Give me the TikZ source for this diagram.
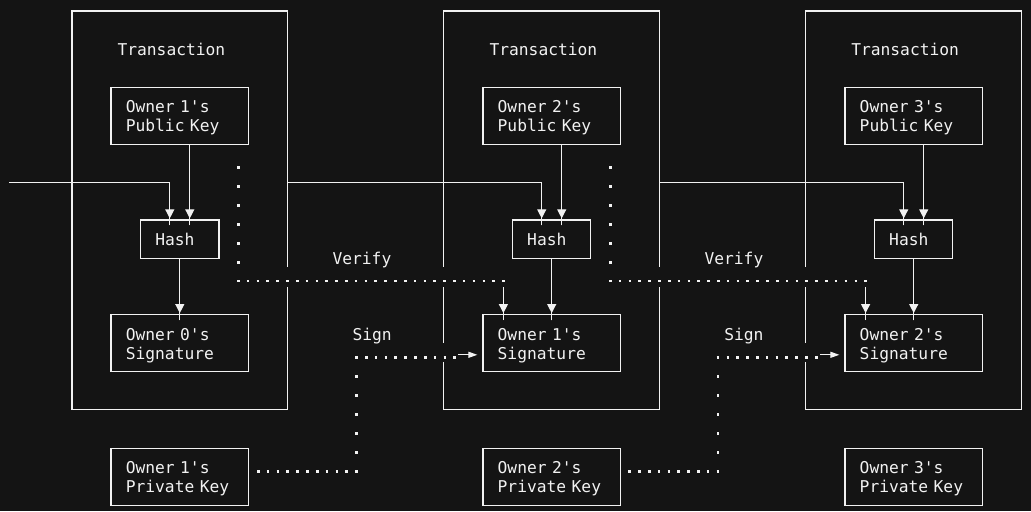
\documentclass[tikz,border=0pt]{standalone}
\usepackage{fontspec}
\setmonofont{DejaVu Sans Mono}
\usepackage{tikz}
\usetikzlibrary{arrows.meta,calc}
\definecolor{bg}{HTML}{141414}
\definecolor{fg}{HTML}{F2F2F2}
\tikzstyle{transaction} =
  [ rectangle
  , draw=fg
  , line width=0.9pt
  , minimum width=161.8pt
  , minimum height=298.7pt
  , inner sep=0pt
  ]
\tikzstyle{key_box} =
  [ rectangle
  , draw=fg
  , line width=0.9pt
  , text width=81pt
  , text height=12pt
  , align=left
  , inner xsep=11pt
  , inner ysep=0pt
  , minimum width=103.1pt
  , minimum height=42.75pt
  ]
\tikzstyle{hash_box} =
  [ key_box
  , text width=36.7pt
  , text height=9.3pt
  , text depth=0pt
  , minimum width=58.7pt
  , minimum height=28.7pt
  ]
\tikzstyle{label} =
  [ anchor=base west
  , inner sep=0pt
  ]
% the tiny second tip keeps a gap between the line and the head
\tikzstyle{link} =
  [ draw=fg
  , line width=0.9pt
  , -{Triangle[length=6.75pt,width=6.75pt,sep=5.25pt] Triangle[length=0.1pt,width=0.1pt]}
  , shorten >=-4.5pt
  ]
\tikzstyle{sign_arrow} =
  [ draw=fg
  , line width=0.9pt
  , -{Triangle[length=6.75pt,width=4.5pt]}
  , shorten >=3.75pt
  ]
\tikzstyle{dots_h} =
  [ draw=fg
  , line width=1.95pt
  , dash pattern=on 1.95pt off 5.415pt
  ]
\tikzstyle{dots_v} =
  [ draw=fg
  , line width=1.95pt
  , dash pattern=on 1.95pt off 12.3pt
  ]
\tikzstyle{gap_verify} =
  [ preaction={draw=bg, solid, line width=15pt, transform canvas={yshift=3pt}}
  ]
\tikzstyle{gap_sign} =
  [ preaction={draw=bg, solid, line width=14.25pt, transform canvas={yshift=3.6pt}}
  ]

\begin{document}
\begin{tikzpicture}[x=0.75pt, y=-0.75pt, color=fg, font=\ttfamily\fontsize{12.2}{14.25}\selectfont]
    \fill[bg] (0,0) rectangle (1031,511);
    \useasboundingbox (0,0) rectangle (1031,511);

    % Transactions
    \node[transaction] (tx1) at (179.9, 210.2) {};
    \node[transaction] (tx2) at (551.7, 210.2) {};
    \node[transaction] (tx3) at (913.5, 210.2) {};

    \node[key_box]  (pub1)  at (179.8, 115.7) {Owner 1's\\Public Key};
    \node[hash_box] (hash1) at (179.8, 239.2) {Hash};
    \node[key_box]  (sig1)  at (179.8, 343.3) {Owner 0's\\Signature};
    \node[key_box]  (priv1) at (179.8, 477)   {Owner 1's\\Private Key};

    \node[key_box]  (pub2)  at (551.7, 115.7) {Owner 2's\\Public Key};
    \node[hash_box] (hash2) at (551.7, 239.2) {Hash};
    \node[key_box]  (sig2)  at (551.7, 343.3) {Owner 1's\\Signature};
    \node[key_box]  (priv2) at (551.7, 477)   {Owner 2's\\Private Key};

    \node[key_box]  (pub3)  at (913.7, 115.7) {Owner 3's\\Public Key};
    \node[hash_box] (hash3) at (913.7, 239.2) {Hash};
    \node[key_box]  (sig3)  at (913.7, 343.3) {Owner 2's\\Signature};
    \node[key_box]  (priv3) at (913.7, 477)   {Owner 3's\\Private Key};

    % Previous transaction and public key into the hash
    \coordinate (chain0) at (9, 182.3);
    \draw[link] (chain0) -| ($(hash1.north)+(-10,0)$);
    \draw[link] (tx1.east |- chain0) -| ($(hash2.north)+(-10,0)$);
    \draw[link] (tx2.east |- chain0) -| ($(hash3.north)+(-10,0)$);
    \draw[link] ($(pub1.south)+(10,0)$) -- ($(hash1.north)+(10,0)$);
    \draw[link] ($(pub2.south)+(10,0)$) -- ($(hash2.north)+(10,0)$);
    \draw[link] ($(pub3.south)+(10,0)$) -- ($(hash3.north)+(10,0)$);

    % Hash into the signature
    \draw[link] (hash1) -- (sig1);
    \draw[link] (hash2) -- (sig2);
    \draw[link] (hash3) -- (sig3);

    % Verify flow
    \coordinate (verify1_start) at (238.3, 166);
    \coordinate (verify1_turn)  at (237, 281);
    \coordinate (verify1_drop)  at (503.4, 287);
    \draw[dots_v] (verify1_start) -- ++(0, 98);
    \draw[dots_h, gap_verify] (verify1_turn) -- ++(268, 0);
    \draw[link] (verify1_drop) -- (verify1_drop |- sig2.north);

    \coordinate (verify2_start) at (610.3, 166);
    \coordinate (verify2_turn)  at (609, 281);
    \coordinate (verify2_drop)  at (865.6, 287);
    \draw[dots_v] (verify2_start) -- ++(0, 98);
    \draw[dots_h, gap_verify] (verify2_turn) -- ++(258.5, 0);
    \draw[link] (verify2_drop) -- (verify2_drop |- sig3.north);

    % Sign flow
    \coordinate (sign1_start) at (257, 471.3);
    \coordinate (sign1_turn)  at (356.5, 472.6);
    \coordinate (sign1_top)   at (355.2, 357.3);
    \coordinate (sign1_arrow) at (458, 354.8);
    \draw[dots_h] (sign1_start) -- ++(101, 0);
    \draw[dots_h, gap_sign] (sign1_top) -- ++(101, 0);
    \draw[dots_v] (sign1_turn) -- ++(0, -116.6);
    \draw[sign_arrow] (sign1_arrow) -- (sign1_arrow -| sig2.west);

    \coordinate (sign2_start) at (628.3, 471.3);
    \coordinate (sign2_turn)  at (718, 472.6);
    \coordinate (sign2_top)   at (716.7, 357.3);
    \coordinate (sign2_arrow) at (820, 354.8);
    \draw[dots_h] (sign2_start) -- ++(91.5, 0);
    \draw[dots_h, gap_sign] (sign2_top) -- ++(101, 0);
    \draw[dots_v] (sign2_turn) -- ++(0, -116.6);
    \draw[sign_arrow] (sign2_arrow) -- (sign2_arrow -| sig3.west);

    % Labels
    \node[label] (title1)  at (117.3, 55)  {Transaction};
    \node[label] (title2)  at (489.3, 55)  {Transaction};
    \node[label] (title3)  at (851, 55)    {Transaction};
    \node[label] (verify1) at (332.3, 264) {Verify};
    \node[label] (verify2) at (704.3, 264) {Verify};
    \node[label] (sign1)   at (352.3, 340) {Sign};
    \node[label] (sign2)   at (724, 340)   {Sign};
\end{tikzpicture}
\end{document}
